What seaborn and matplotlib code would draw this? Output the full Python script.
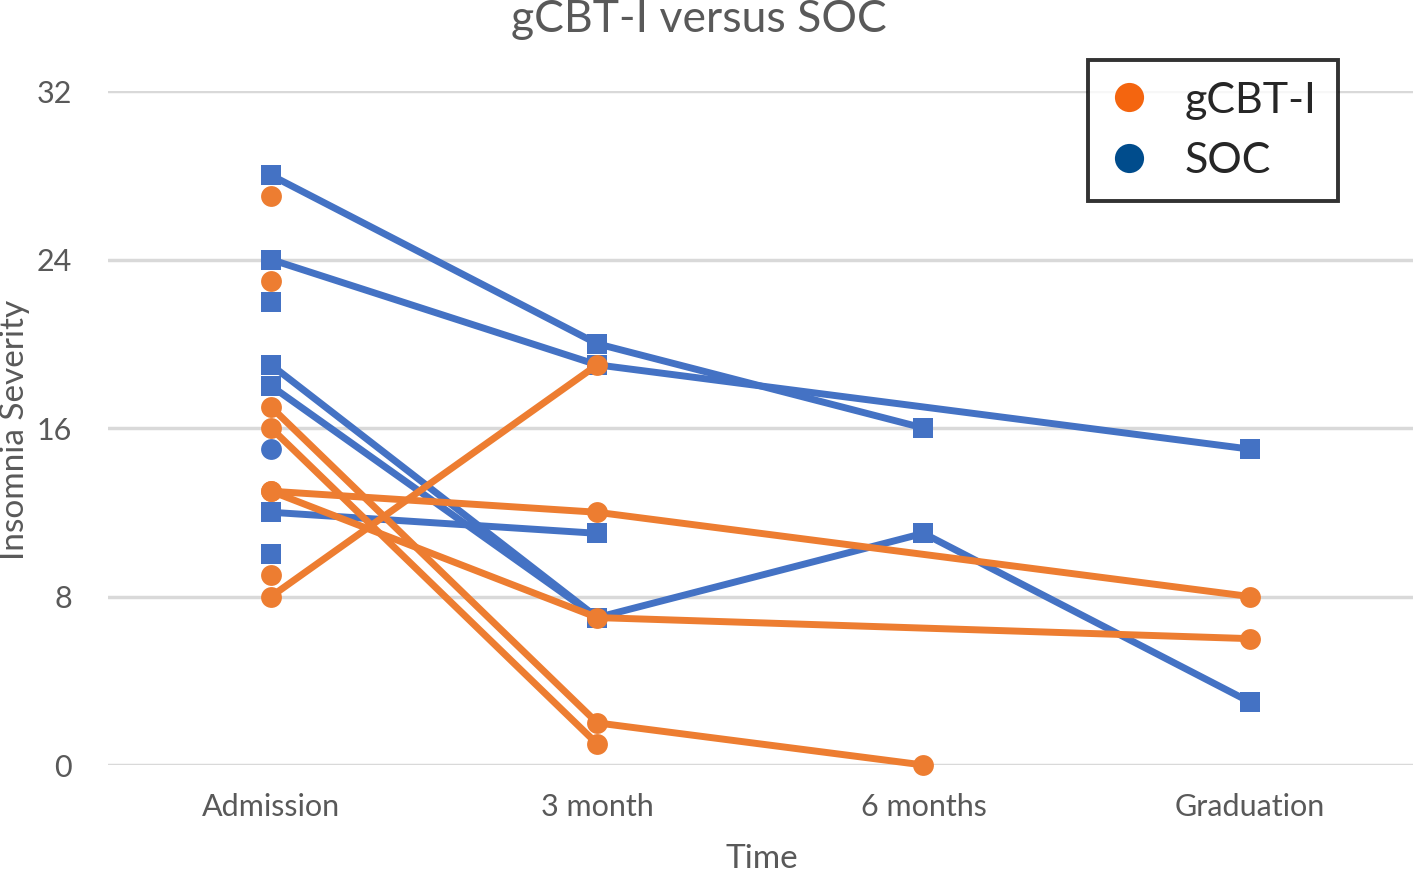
import numpy as np
import pandas as pd
import seaborn as sns
import matplotlib.pyplot as plt
from matplotlib.lines import Line2D

nan = np.nan

times = ["Admission", "3 month", "6 months", "Graduation"]

# one row per participant, values at each time point (nan = not measured)
gcbt_scores = [
    [27, nan, nan, nan],
    [23, nan, nan, nan],
    [17, 2, 0, nan],
    [16, 1, nan, nan],
    [13, 12, nan, 8],
    [13, 7, nan, 6],
    [9, nan, nan, nan],
    [8, 19, nan, nan],
]
gcbt_shapes = ["o"] * len(gcbt_scores)

soc_scores = [
    [28, 20, 16, nan],
    [24, 19, nan, 15],
    [22, nan, nan, nan],
    [19, 7, 11, 3],
    [18, 7, nan, nan],
    [15, nan, nan, nan],
    [12, 11, nan, nan],
    [10, nan, nan, nan],
]
soc_shapes = ["s", "s", "s", "s", "s", "o", "s", "s"]

line_colors = {"gCBT-I": "#ED7D31", "SOC": "#4472C4"}
legend_colors = {"gCBT-I": "#F4650F", "SOC": "#004C8C"}


def to_long(scores, shapes, group):
    rows = []
    for i, (vals, shape) in enumerate(zip(scores, shapes)):
        for t, v in enumerate(vals):
            if not np.isnan(v):
                rows.append({"subject": f"{group}_{i}", "group": group,
                             "time": t, "score": v, "shape": shape})
    return pd.DataFrame(rows)


def draw_group(ax, data, group):
    sns.lineplot(data=data, x="time", y="score", units="subject", estimator=None,
                 style="shape", markers={"o": "o", "s": "s"}, dashes=False,
                 color=line_colors[group], linewidth=5, markersize=15,
                 markeredgewidth=0, legend=False, clip_on=False, ax=ax, sort=True)


def main():
    sns.set_theme(style="white")
    plt.rcParams["font.family"] = ["Lato", "DejaVu Sans"]

    soc = to_long(soc_scores, soc_shapes, "SOC")
    gcbt = to_long(gcbt_scores, gcbt_shapes, "gCBT-I")

    fig = plt.figure(figsize=(14.17, 8.72), dpi=100)
    ax = fig.add_axes([0.0762, 0.1227, 0.9208, 0.7729])

    draw_group(ax, soc, "SOC")
    draw_group(ax, gcbt, "gCBT-I")

    ax.set_xlim(-0.5, 3.5)
    ax.set_ylim(0, 32)
    ax.set_yticks([0, 8, 16, 24, 32])
    ax.set_xticks(range(len(times)))
    ax.set_xticklabels(times)
    ax.tick_params(axis="both", labelsize=22, labelcolor="#595959", length=0)
    ax.tick_params(axis="x", pad=20)
    ax.tick_params(axis="y", pad=26)
    ax.grid(axis="y", color="#D9D9D9", linewidth=2.5)
    ax.set_axisbelow(True)
    for s in ax.spines.values():
        s.set_visible(False)

    ax.set_xlabel("")
    ax.set_ylabel("")
    fig.text(762 / 1417, 1 - 859 / 872, "Time", ha="center", va="center",
             fontsize=24, color="#595959")
    fig.text(15 / 1417, 1 - 430 / 872, "Insomnia Severity", ha="center", va="center",
             rotation=90, fontsize=24, color="#595959")
    fig.text(0.493, 0.978, "gCBT-I versus SOC", ha="center", va="center",
             fontsize=32, color="#595959")

    handles = [Line2D([], [], marker="o", linestyle="none", markersize=21,
                      markerfacecolor=legend_colors[g], markeredgewidth=0, label=g)
               for g in ["gCBT-I", "SOC"]]
    leg = ax.legend(handles=handles, loc="upper right", bbox_to_anchor=(0.9427, 1.046),
                    borderaxespad=0, fontsize=31, frameon=True, fancybox=False,
                    edgecolor="black", handletextpad=0.85, borderpad=0.5,
                    labelspacing=0.52, handlelength=0.9)
    leg.get_frame().set_linewidth(2.8)

    fig.savefig("out.png", dpi=100)


if __name__ == "__main__":
    main()
